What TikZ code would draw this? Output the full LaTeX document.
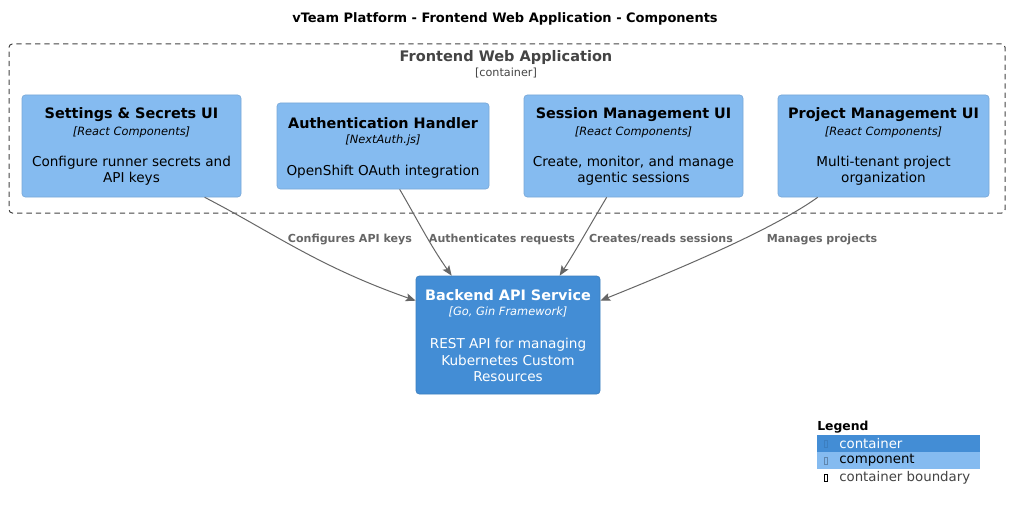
\documentclass[tikz,border=0pt]{standalone}
\usepackage{fontspec}
\setmainfont{DejaVu Sans}
\usetikzlibrary{arrows.meta,calc}
\definecolor{compfill}{HTML}{85BBF0}
\definecolor{compline}{HTML}{78A8D8}
\definecolor{contfill}{HTML}{438DD5}
\definecolor{contline}{HTML}{3C7FC0}
\definecolor{arrgray}{HTML}{666666}
\definecolor{bndgray}{HTML}{444444}
\begin{document}
\begin{tikzpicture}[x=0.75pt,y=-0.75pt,
  comp/.style={draw=compline,fill=compfill,rounded corners=2.5pt,inner sep=0pt,line width=0.5pt},
  cont/.style={draw=contline,fill=contfill,rounded corners=2.5pt,inner sep=0pt,line width=0.5pt},
  bnd/.style={draw=bndgray,dash pattern=on 4pt off 3pt,rounded corners=2.5pt,inner sep=0pt,line width=0.75pt},
  ttl/.style={font=\bfseries\fontsize{10.8}{13}\selectfont,inner sep=0pt},
  tech/.style={font=\itshape\fontsize{8.55}{10}\selectfont,inner sep=0pt},
  desc/.style={font=\fontsize{10.2}{12.3}\selectfont,inner sep=0pt,align=center},
  lbl/.style={font=\bfseries\fontsize{8.3}{10}\selectfont,text=arrgray,inner sep=0pt},
  rel/.style={draw=arrgray,line width=0.75pt,-{Stealth[length=7.5pt,width=6pt,inset=1.5pt]}},
]
\useasboundingbox (0,0) rectangle (1010,510);
\fill[white] (0,0) rectangle (1010,510);

\node[font=\bfseries\fontsize{9.75}{12}\selectfont,inner sep=0pt] (title) at (505,19) {vTeam Platform - Frontend Web Application - Components};

% boundary
\node[bnd,minimum width={996*0.75pt},minimum height={169*0.75pt}] (bnd) at (507,128.5) {};
\node[font=\bfseries\fontsize{10.9}{13}\selectfont,text=bndgray,inner sep=0pt] (bndt) at (506,57) {Frontend Web Application};
\node[font=\fontsize{8.4}{10}\selectfont,text=bndgray,inner sep=0pt] (bnds) at (506,73) {[container]};

% components
\node[comp,minimum width={219*0.75pt},minimum height={102*0.75pt}] (s1) at (131.5,146) {};
\node[ttl] at (131.5,115) {Settings \& Secrets UI};
\node[tech] at (131.5,132) {[React Components]};
\node[desc] at (131.5,171) {Configure runner secrets and\\API keys};

\node[comp,minimum width={212*0.75pt},minimum height={86*0.75pt}] (s2) at (383,146) {};
\node[ttl] at (383,123) {Authentication Handler};
\node[tech] at (383,140) {[NextAuth.js]};
\node[desc] at (383,172) {OpenShift OAuth integration};

\node[comp,minimum width={219*0.75pt},minimum height={102*0.75pt}] (s3) at (633.5,146) {};
\node[ttl] at (633.5,115) {Session Management UI};
\node[tech] at (633.5,132) {[React Components]};
\node[desc] at (633.5,171) {Create, monitor, and manage\\agentic sessions};

\node[comp,minimum width={211*0.75pt},minimum height={102*0.75pt}] (s4) at (883.5,146) {};
\node[ttl] at (883.5,115) {Project Management UI};
\node[tech] at (883.5,132) {[React Components]};
\node[desc] at (883.5,171) {Multi-tenant project\\organization};

% backend
\node[cont,minimum width={184*0.75pt},minimum height={118*0.75pt}] (be) at (508,335) {};
\node[ttl,text=white] at (508,295) {Backend API Service};
\node[tech,text=white] at (508,312) {[Go, Gin Framework]};
\node[desc,text=white] at (508,360) {REST API for managing\\Kubernetes Custom\\Resources};

% relations
\coordinate (a1) at ($(s1.south west)+(183,0)$);
\coordinate (e1) at ($(be.north west)+(0,25)$);
\draw[rel] (a1) .. controls (272,232) and (317,266) .. (e1);
\node[lbl] (l1) at (350,239) {Configures API keys};

\coordinate (a2) at ($(s2.south west)+(123,0)$);
\coordinate (e2) at ($(be.north west)+(36,0)$);
\draw[rel] (a2) .. controls (417,219) and (430,245) .. (e2);
\node[lbl] (l2) at (502,239) {Authenticates requests};

\coordinate (a3) at ($(s3.south west)+(83,0)$);
\coordinate (e3) at ($(be.north west)+(144,0)$);
\draw[rel] (a3) .. controls (590,225) and (578,247) .. (e3);
\node[lbl] (l3) at (661,239) {Creates/reads sessions};

\coordinate (a4) at ($(s4.south west)+(40,0)$);
\coordinate (e4) at ($(be.north east)+(0,25)$);
\draw[rel] (a4) .. controls (772,230) and (679,269) .. (e4);
\node[lbl] (l4) at (822,239) {Manages projects};

% legend
\node[font=\bfseries\fontsize{9.3}{11}\selectfont,anchor=west,inner sep=0pt] (lg) at (817,427) {Legend};
\node[fill=contfill,minimum width={163*0.75pt},minimum height={17*0.75pt},inner sep=0pt,anchor=north west] (lc) at (817,435) {};
\node[fill=compfill,minimum width={163*0.75pt},minimum height={17*0.75pt},inner sep=0pt,anchor=north west] (lp) at (817,452) {};
\draw[contline,line width=0.4pt] (824,440) rectangle (827,447);
\draw[compline!80!black,line width=0.4pt] (824,457) rectangle (827,464);
\draw[black,line width=0.5pt] (824,474) rectangle (827,481);
\node[font=\fontsize{10}{12}\selectfont,text=white,anchor=west,inner sep=0pt] at (839,444) {container};
\node[font=\fontsize{10}{12}\selectfont,anchor=west,inner sep=0pt] at (839,460) {component};
\node[font=\fontsize{10}{12}\selectfont,text=bndgray,anchor=west,inner sep=0pt] at (839,478) {container boundary};
\end{tikzpicture}
\end{document}
